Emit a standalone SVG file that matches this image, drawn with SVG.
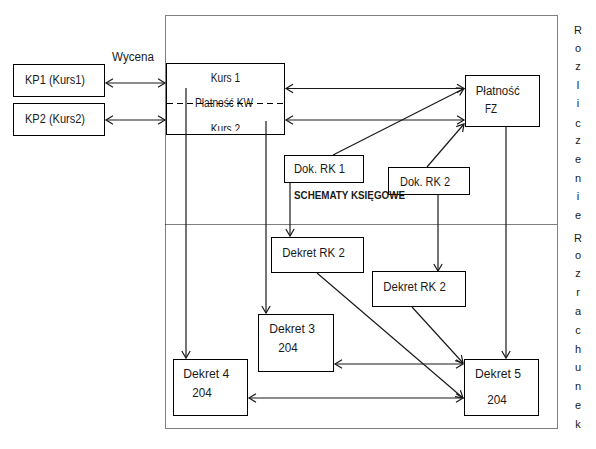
<svg xmlns="http://www.w3.org/2000/svg" width="596" height="449" viewBox="0 0 596 449">
<style>
.box{fill:#fff;stroke:#000;stroke-width:1}
.t{font-family:"Liberation Sans",Arial,sans-serif;font-size:12px;fill:#1a1a1a}
.b{font-family:"Liberation Sans",Arial,sans-serif;font-size:10.5px;font-weight:bold;fill:#1a1a1a}
.v{font-family:"Liberation Sans",Arial,sans-serif;font-size:11px;fill:#1a1a1a;text-anchor:middle}
.c{fill:none;stroke:#1a1a1a;stroke-width:1.2}
.dot{fill:none;stroke:#000;stroke-width:1;stroke-dasharray:1 1}
.dash{fill:none;stroke:#000;stroke-width:1;stroke-dasharray:6 4}
</style>
<defs>
<marker id="ah" viewBox="-9 -6 11 12" refX="0" refY="0" markerWidth="11" markerHeight="12" markerUnits="userSpaceOnUse" orient="auto-start-reverse">
<path d="M-7,-4.2 L0,0 L-7,4.2" fill="none" stroke="#1a1a1a" stroke-width="1.2"/>
</marker>
<clipPath id="kclip"><rect x="166" y="63" width="118" height="68"/></clipPath>
</defs>

<g id="frame">
<rect class="dot" x="165.5" y="15.5" width="392" height="413"/>
<line class="dot" x1="165.5" y1="224.5" x2="557.5" y2="224.5"/>
</g>

<g id="kp1"><rect class="box" x="13.5" y="64.5" width="91" height="32"/><text class="t" x="25" y="84" textLength="60" lengthAdjust="spacingAndGlyphs">KP1 (Kurs1)</text></g>
<g id="kp2"><rect class="box" x="13.5" y="103.5" width="91" height="32"/><text class="t" x="25" y="123" textLength="60" lengthAdjust="spacingAndGlyphs">KP2 (Kurs2)</text></g>
<g id="kurs">
<rect class="box" x="166.5" y="63.5" width="118" height="71"/>
<text class="t" x="210.7" y="82" textLength="29.5" lengthAdjust="spacingAndGlyphs">Kurs 1</text>
<text class="t" x="195" y="107" textLength="58" lengthAdjust="spacingAndGlyphs">Płatność KW</text>
<line class="dash" x1="167" y1="103.5" x2="284" y2="103.5"/>
<text class="t" x="210.7" y="133" textLength="29.5" lengthAdjust="spacingAndGlyphs" clip-path="url(#kclip)">Kurs 2</text>
</g>
<g id="platnosc-fz"><rect class="box" x="465.5" y="75.5" width="74" height="51"/><text class="t" x="475.7" y="95" textLength="44" lengthAdjust="spacingAndGlyphs">Płatność</text><text class="t" x="485" y="113" textLength="12" lengthAdjust="spacingAndGlyphs">FZ</text></g>
<g id="dok-rk1"><rect class="box" x="284.5" y="155.5" width="79" height="27"/><text class="t" x="294" y="172.5" textLength="51" lengthAdjust="spacingAndGlyphs">Dok. RK 1</text></g>
<g id="dok-rk2"><rect class="box" x="388.5" y="167.5" width="81" height="27"/><text class="t" x="400" y="186" textLength="50" lengthAdjust="spacingAndGlyphs">Dok. RK 2</text></g>
<g id="schematy"><text class="b" x="294" y="199" textLength="111" lengthAdjust="spacingAndGlyphs">SCHEMATY KSIĘGOWE</text></g>
<g id="dekret-rk2-a"><rect class="box" x="271.5" y="237.5" width="92" height="35"/><text class="t" x="282.3" y="256.5" textLength="62.5" lengthAdjust="spacingAndGlyphs">Dekret RK 2</text></g>
<g id="dekret-rk2-b"><rect class="box" x="372.5" y="271.5" width="93" height="35"/><text class="t" x="383.3" y="290.5" textLength="62.5" lengthAdjust="spacingAndGlyphs">Dekret RK 2</text></g>
<g id="dekret-3"><rect class="box" x="258.5" y="314.5" width="75" height="57"/><text class="t" x="269.3" y="333" textLength="45.7" lengthAdjust="spacingAndGlyphs">Dekret 3</text><text class="t" x="278.3" y="352" textLength="19.5" lengthAdjust="spacingAndGlyphs">204</text></g>
<g id="dekret-4"><rect class="box" x="173.5" y="359.5" width="74" height="56"/><text class="t" x="183.3" y="377.5" textLength="46" lengthAdjust="spacingAndGlyphs">Dekret 4</text><text class="t" x="192.3" y="396.5" textLength="19.5" lengthAdjust="spacingAndGlyphs">204</text></g>
<g id="dekret-5"><rect class="box" x="464.5" y="359.5" width="74" height="56"/><text class="t" x="475" y="377.5" textLength="46" lengthAdjust="spacingAndGlyphs">Dekret 5</text><text class="t" x="487.3" y="403.5" textLength="19.5" lengthAdjust="spacingAndGlyphs">204</text></g>

<g id="wycena"><text class="t" x="112" y="61" textLength="42" lengthAdjust="spacingAndGlyphs">Wycena</text></g>

<g id="side-label">
<text class="v" x="578"><tspan x="578" y="34">R</tspan><tspan x="578" y="52">o</tspan><tspan x="578" y="70">z</tspan><tspan x="578" y="89">l</tspan><tspan x="578" y="107">i</tspan><tspan x="578" y="127">c</tspan><tspan x="578" y="144">z</tspan><tspan x="578" y="163">e</tspan><tspan x="578" y="182">n</tspan><tspan x="578" y="200">i</tspan><tspan x="578" y="219">e</tspan></text>
<text class="v" x="578"><tspan x="578" y="242">R</tspan><tspan x="578" y="259">o</tspan><tspan x="578" y="277">z</tspan><tspan x="578" y="296">r</tspan><tspan x="578" y="315">a</tspan><tspan x="578" y="334">c</tspan><tspan x="578" y="353">h</tspan><tspan x="578" y="371">u</tspan><tspan x="578" y="390">n</tspan><tspan x="578" y="409">e</tspan><tspan x="578" y="428">k</tspan></text>
</g>

<g id="connectors">
<line class="c" x1="106" y1="83" x2="165" y2="83" marker-start="url(#ah)" marker-end="url(#ah)"/>
<line class="c" x1="106" y1="120" x2="165" y2="120" marker-start="url(#ah)" marker-end="url(#ah)"/>
<line class="c" x1="286" y1="88.5" x2="464" y2="88.5" marker-start="url(#ah)" marker-end="url(#ah)"/>
<line class="c" x1="286" y1="120" x2="464" y2="120" marker-start="url(#ah)" marker-end="url(#ah)"/>
<line class="c" x1="333" y1="155" x2="464" y2="88.5" marker-end="url(#ah)"/>
<line class="c" x1="427" y1="167" x2="464" y2="124" marker-end="url(#ah)"/>
<line class="c" x1="186" y1="88" x2="186" y2="358" marker-end="url(#ah)"/>
<line class="c" x1="266" y1="121" x2="266" y2="313" marker-end="url(#ah)"/>
<line class="c" x1="290" y1="183" x2="290" y2="236" marker-end="url(#ah)"/>
<line class="c" x1="438" y1="195" x2="438" y2="271" marker-end="url(#ah)"/>
<line class="c" x1="506" y1="127" x2="506" y2="358" marker-end="url(#ah)"/>
<line class="c" x1="317" y1="273" x2="463" y2="398" marker-end="url(#ah)"/>
<line class="c" x1="412" y1="307" x2="463" y2="363" marker-end="url(#ah)"/>
<line class="c" x1="335" y1="364" x2="463" y2="364" marker-start="url(#ah)" marker-end="url(#ah)"/>
<line class="c" x1="249" y1="398" x2="463" y2="398" marker-start="url(#ah)" marker-end="url(#ah)"/>
</g>
</svg>
